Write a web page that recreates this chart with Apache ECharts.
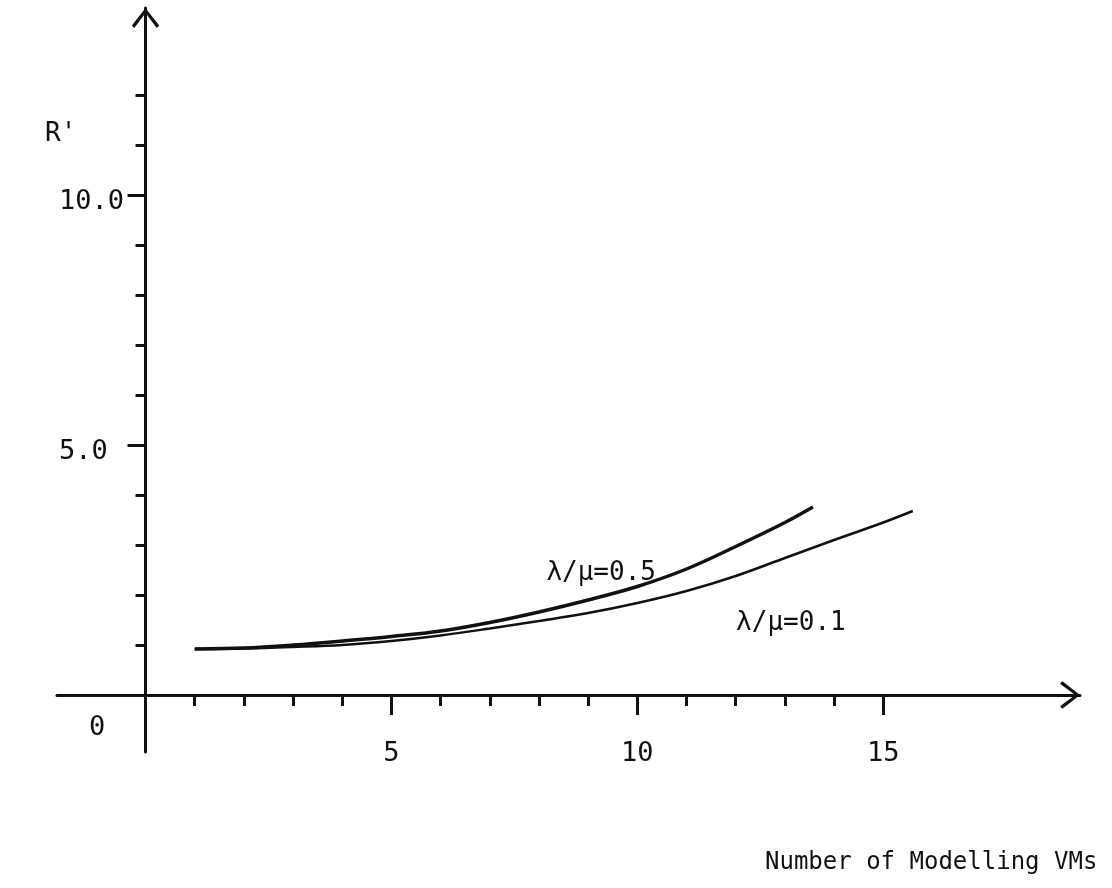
<!DOCTYPE html>
<html>
<head>
<meta charset="utf-8">
<title>R' vs Number of Modelling VMs</title>
<script src="https://cdn.jsdelivr.net/npm/echarts@6/dist/echarts.min.js"></script>
<style>
  html, body { margin: 0; padding: 0; background: #fff; }
  #main { width: 1112px; height: 888px; }
</style>
</head>
<body>
<div id="main"></div>
<script>
// values
var vms05 = [1, 2, 3, 4, 5, 6, 7, 8, 9, 10, 11, 12, 13, 13.57];
var r05 = [0.92, 0.94, 1.0, 1.08, 1.17, 1.28, 1.45, 1.66, 1.9, 2.17, 2.52, 2.97, 3.45, 3.76];

var vms01 = [1, 2, 3, 4, 5, 6, 7, 8, 9, 10, 11, 12, 13, 14, 15, 15.6];
var r01 = [0.92, 0.93, 0.96, 1.0, 1.08, 1.19, 1.33, 1.48, 1.64, 1.84, 2.08, 2.38, 2.74, 3.1, 3.45, 3.68];

var xMinorTicks = [1, 2, 3, 4, 6, 7, 8, 9, 11, 12, 13, 14];
var xMajorTicks = [5, 10, 15];
var xLabels = [5, 10, 15];
var yMinorTicks = [1, 2, 3, 4, 6, 7, 8, 9, 11, 12];
var yMajorTicks = [5, 10];
var yLabels = [0, 5, 10];

var font = "DejaVu Sans Mono";
var ink = "#111";
// open chevron used as the axis arrow head
var chevron = "path://M14,0 L28,18 L25.5,20.5 L14,5 L2.5,20.5 L0,18 Z";

function pairs(xs, ys) {
  return xs.map(function (x, i) { return [x, ys[i]]; });
}

function labelled(data, idx, text, offset) {
  data[idx] = {
    value: data[idx],
    label: {
      show: true,
      position: "inside",
      formatter: text,
      offset: offset,
      fontFamily: font,
      fontSize: 26,
      color: ink
    }
  };
  return data;
}

var d05 = labelled(pairs(vms05, r05), 8, "λ/μ=0.5", [13, -27]);
var d01 = labelled(pairs(vms01, r01), 12, "λ/μ=0.1", [6, 65]);

var myChart = echarts.init(document.getElementById("main"));

myChart.setOption({
  backgroundColor: "#fff",
  animation: false,
  title: [
    { text: "R'", left: 40, top: 116, textStyle: { fontFamily: font, fontSize: 26, fontWeight: "normal", color: ink } },
    { text: "Number of Modelling VMs", left: 760, top: 846, textStyle: { fontFamily: font, fontSize: 24, fontWeight: "normal", color: ink } }
  ],
  grid: { left: 57, right: 32, top: 8, bottom: 136, containLabel: false, outerBoundsMode: "none" },
  xAxis: [
    {
      type: "value",
      min: -1.8,
      max: 19,
      splitLine: { show: false },
      axisLine: {
        onZero: true,
        onZeroAxisIndex: 0,
        symbol: ["none", chevron],
        symbolSize: [28, 20],
        symbolOffset: [0, -10],
        lineStyle: { color: ink, width: 3 }
      },
      axisTick: { customValues: xMinorTicks, length: 11, lineStyle: { color: ink, width: 3 } },
      axisLabel: {
        customValues: xLabels,
        margin: -12,
        fontFamily: font,
        fontSize: 27,
        color: ink
      }
    },
    {
      type: "value",
      min: -1.8,
      max: 19,
      position: "bottom",
      splitLine: { show: false },
      axisLine: { show: false, onZero: true, onZeroAxisIndex: 0 },
      axisTick: { customValues: xMajorTicks, length: 20, lineStyle: { color: ink, width: 3 } },
      axisLabel: { show: false }
    }
  ],
  yAxis: [
    {
      type: "value",
      min: -1.14,
      max: 13.74,
      splitLine: { show: false },
      axisLine: {
        onZero: true,
        onZeroAxisIndex: 0,
        symbol: ["none", chevron],
        symbolSize: [28, 20],
        symbolOffset: [0, -10],
        lineStyle: { color: ink, width: 3 }
      },
      axisTick: { customValues: yMinorTicks, length: 10, lineStyle: { color: ink, width: 3 } },
      axisLabel: {
        customValues: yLabels,
        margin: -2,
        align: "left",
        formatter: function (v) {
          return v === 0 ? "{z|0}" : "{n|" + v.toFixed(1) + "}";
        },
        rich: {
          n: { fontFamily: font, fontSize: 27, color: ink, padding: [14, 0, 0, 0] },
          z: { fontFamily: font, fontSize: 27, color: ink, padding: [66, 0, 0, 30] }
        }
      }
    },
    {
      type: "value",
      min: -1.14,
      max: 13.74,
      position: "left",
      splitLine: { show: false },
      axisLine: { show: false, onZero: true, onZeroAxisIndex: 0 },
      axisTick: { customValues: yMajorTicks, length: 18, lineStyle: { color: ink, width: 3 } },
      axisLabel: { show: false }
    }
  ],
  series: [
    {
      name: "λ/μ=0.5",
      type: "line",
      xAxisIndex: 0,
      yAxisIndex: 0,
      smooth: 0.35,
      symbolSize: 0,
      itemStyle: { color: ink, borderWidth: 0 },
      lineStyle: { color: ink, width: 3.5 },
      data: d05
    },
    {
      name: "λ/μ=0.1",
      type: "line",
      xAxisIndex: 0,
      yAxisIndex: 0,
      smooth: 0.35,
      symbolSize: 0,
      itemStyle: { color: ink, borderWidth: 0 },
      lineStyle: { color: ink, width: 2.5 },
      data: d01
    }
  ]
});
</script>
</body>
</html>
